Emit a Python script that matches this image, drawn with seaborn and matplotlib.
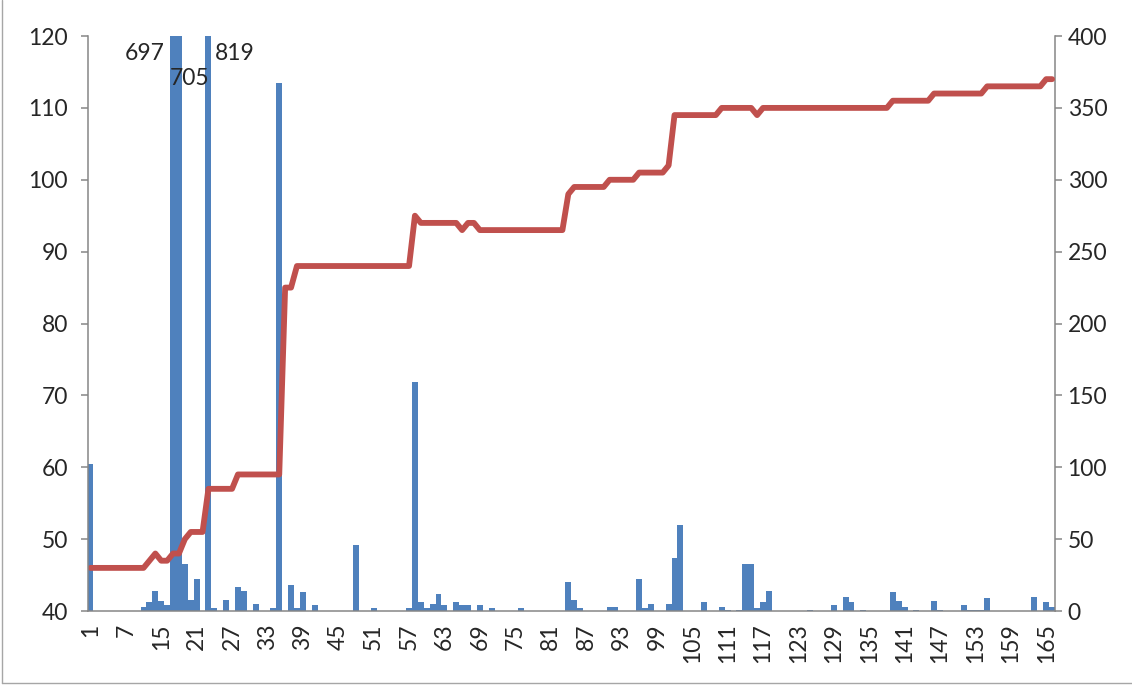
import matplotlib
matplotlib.use("Agg")
import matplotlib.pyplot as plt
import seaborn as sns
import numpy as np
import pandas as pd
from matplotlib.lines import Line2D

# category labels (two numbers are missing in the source series)
labels = [str(v) for v in list(range(1, 9)) + list(range(11, 167))]

# bar counts (right axis)
counts = [
    102, 0, 0, 0, 0, 0, 0, 0, 0, 3,
    6, 14, 7, 4, 697, 705, 33, 8, 22, 0,
    819, 2, 0, 8, 0, 17, 14, 0, 5, 0,
    0, 2, 367, 0, 18, 2, 13, 0, 4, 0,
    0, 0, 0, 0, 0, 46, 0, 0, 2, 0,
    0, 0, 0, 0, 2, 159, 6, 2, 5, 12,
    4, 0, 6, 4, 4, 0, 4, 0, 2, 0,
    0, 0, 0, 2, 0, 0, 0, 0, 0, 0,
    0, 20, 8, 2, 0, 0, 0, 0, 3, 3,
    0, 0, 0, 22, 2, 5, 0, 0, 5, 37,
    60, 0, 0, 0, 6, 0, 0, 3, 1, 0,
    1, 33, 33, 2, 6, 14, 0, 0, 0, 0,
    0, 0, 1, 0, 0, 0, 4, 0, 10, 6,
    0, 1, 0, 0, 0, 0, 13, 7, 3, 0,
    1, 0, 0, 7, 1, 0, 0, 0, 4, 1,
    1, 1, 9, 0, 0, 0, 0, 0, 0, 0,
    10, 0, 6, 3,
]

# line values (left axis)
level = [
    46, 46, 46, 46, 46, 46, 46, 46, 46, 46,
    47, 48, 47, 47, 48, 48, 50, 51, 51, 51,
    57, 57, 57, 57, 57, 59, 59, 59, 59, 59,
    59, 59, 59, 85, 85, 88, 88, 88, 88, 88,
    88, 88, 88, 88, 88, 88, 88, 88, 88, 88,
    88, 88, 88, 88, 88, 95, 94, 94, 94, 94,
    94, 94, 94, 93, 94, 94, 93, 93, 93, 93,
    93, 93, 93, 93, 93, 93, 93, 93, 93, 93,
    93, 98, 99, 99, 99, 99, 99, 99, 100, 100,
    100, 100, 100, 101, 101, 101, 101, 101, 102, 109,
    109, 109, 109, 109, 109, 109, 109, 110, 110, 110,
    110, 110, 110, 109, 110, 110, 110, 110, 110, 110,
    110, 110, 110, 110, 110, 110, 110, 110, 110, 110,
    110, 110, 110, 110, 110, 110, 111, 111, 111, 111,
    111, 111, 111, 112, 112, 112, 112, 112, 112, 112,
    112, 112, 113, 113, 113, 113, 113, 113, 113, 113,
    113, 113, 114, 114,
]

left_ticks = [40, 50, 60, 70, 80, 90, 100, 110, 120]
right_ticks = [0, 50, 100, 150, 200, 250, 300, 350, 400]

sns.set_style("white")
plt.rcParams["font.family"] = ["Lato", "DejaVu Sans"]
fs = 16.5

df = pd.DataFrame({"label": labels, "pos": np.arange(len(labels)),
                   "count": counts, "level": level})

fig = plt.figure(figsize=(11.32, 6.85), dpi=100)
ax = fig.add_axes([0.0773, 0.108, 0.8547, 0.8394])
ax2 = ax.twinx()

sns.barplot(data=df, x="label", y="count", order=labels, color="#4F81BD",
            saturation=1, width=1.0, linewidth=0, ax=ax2)
sns.lineplot(data=df, x="pos", y="level", color="#C0504D", linewidth=4.2,
             solid_joinstyle="round", solid_capstyle="round", ax=ax)

ax.set_zorder(ax2.get_zorder() + 1)
ax.patch.set_visible(False)

ax.set_ylim(40, 120)
ax2.set_ylim(0, 400)
ax.set_xlim(-0.5, len(labels) - 0.5)
ax.set_yticks(left_ticks)
ax2.set_yticks(right_ticks)
xt = np.arange(0, len(labels), 6)
ax.set_xticks(xt)
ax.set_xticklabels([labels[i] for i in xt], rotation=90)

for a in (ax, ax2):
    a.set_xlabel("")
    a.set_ylabel("")
    for s in a.spines.values():
        s.set_visible(False)
        s.set_color("#868686")
        s.set_linewidth(1.1)
ax.spines["left"].set_visible(True)
ax.spines["bottom"].set_visible(True)
ax2.spines["right"].set_visible(True)

ax.tick_params(axis="y", direction="out", length=5, width=1.1, color="#868686",
               labelsize=fs, pad=9)
ax.tick_params(axis="x", length=0, pad=9, labelsize=fs)
ax2.tick_params(axis="y", direction="out", length=5, width=1.1, color="#868686",
                labelsize=fs, pad=4)

# labels for the bars cut off at the top
ax2.annotate(str(counts[14]), xy=(13.5, 400), xytext=(-5, -17), textcoords="offset pixels",
             ha="right", va="center", fontsize=fs, annotation_clip=False)
ax2.annotate(str(counts[15]), xy=(13.5, 400), xytext=(0, -42), textcoords="offset pixels",
             ha="left", va="center", fontsize=fs, annotation_clip=False)
ax2.annotate(str(counts[20]), xy=(20.5, 400), xytext=(3, -17), textcoords="offset pixels",
             ha="left", va="center", fontsize=fs, annotation_clip=False)

# chart area border (left and bottom edges show in the source)
fig.add_artist(Line2D([0.002, 0.002], [0.003, 1], transform=fig.transFigure,
                      color="#a6a6a6", lw=1))
fig.add_artist(Line2D([0.002, 1], [0.003, 0.003], transform=fig.transFigure,
                      color="#a6a6a6", lw=1))

fig.savefig("out.png", dpi=100)
plt.close()
